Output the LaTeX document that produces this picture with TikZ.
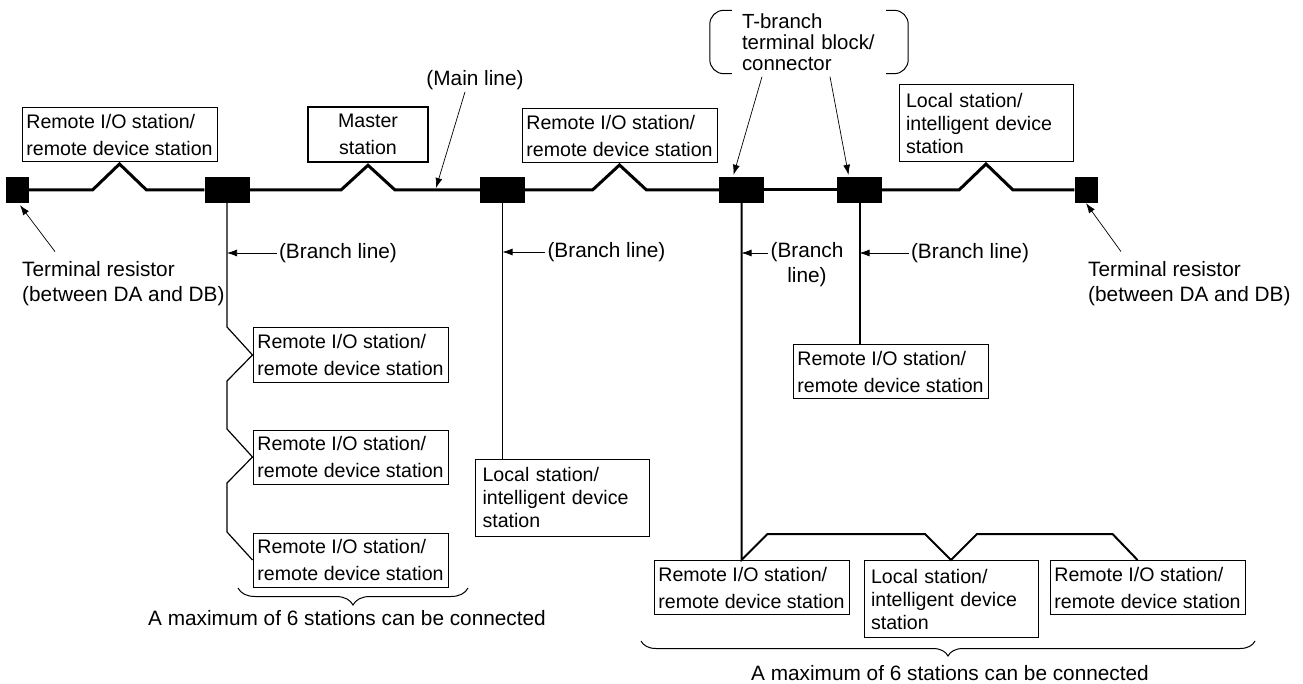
\documentclass[tikz,border=0pt]{standalone}
\usepackage{fontspec}
\setmainfont{Liberation Sans}
\usetikzlibrary{arrows.meta,calc,positioning,decorations.pathreplacing}

\begin{document}
\begin{tikzpicture}[x=1pt,y=-1pt,font=\fontsize{20.8}{25}\selectfont]
  \tikzset{rbox/.style={draw, line width=1pt, align=left, inner sep=2pt, minimum width=195pt, minimum height=54pt, font=\fontsize{19.6}{27}\selectfont}, lbox/.style={draw, line width=1pt, align=left, inner xsep=7pt, inner ysep=2pt, text width=160pt, minimum height=77pt, font=\fontsize{19.6}{23}\selectfont}, mbox/.style={draw, line width=2.5pt, align=center, minimum width=120pt, minimum height=55pt, font=\fontsize{19.6}{27}\selectfont}, tblock/.style={fill=black, minimum width=45pt, minimum height=26pt, inner sep=0pt}, term/.style={fill=black, minimum width=23pt, minimum height=26pt, inner sep=0pt}, bus/.style={line width=3pt}, thinbr/.style={line width=1.2pt}, thickbr/.style={line width=2pt}, pointer/.style={-{Latex[length=10pt,width=7pt]}, line width=0.7pt}, lbl/.style={inner sep=2pt, align=left}, paren/.style={line width=1pt, rounded corners=14pt}, brc/.style={line width=1pt, decorate, decoration={brace, mirror, amplitude=#1}}}
  \useasboundingbox (0,0) rectangle (1303,684);
  % main line
  \node[term] (termL) at (17,190) {};
  \node[tblock] (tb1) at (227,190) {};
  \node[tblock] (tb2) at (502.5,190) {};
  \node[tblock] (tb3) at (741.5,190) {};
  \node[tblock] (tb4) at (859.5,190) {};
  \node[term] (termR) at (1086,190) {};
  \node[rbox] (r1) at (119.5,134.5) {Remote I/O station/\\remote device station};
  \node[mbox] (master) at (368,134.5) {Master\\station};
  \node[rbox] (r2) at (619.5,135.5) {Remote I/O station/\\remote device station};
  \node[lbox] (l1) at (986,123) {Local station/\\intelligent device\\station};
  \draw[bus] (termL.east) -- ($(r1.south |- termL.east)+(-27,0)$) -- ($(r1.south)+(0,2)$) -- ($(r1.south |- termL.east)+(27,0)$) -- (tb1.west);
  \draw[bus] (tb1.east) -- ($(master.south |- tb1.east)+(-27,0)$) -- ($(master.south)+(0,2)$) -- ($(master.south |- tb1.east)+(27,0)$) -- (tb2.west);
  \draw[bus] (tb2.east) -- ($(r2.south |- tb2.east)+(-27,0)$) -- ($(r2.south)+(0,2)$) -- ($(r2.south |- tb2.east)+(27,0)$) -- (tb3.west);
  \draw[bus] (tb3.east) -- (tb4.west);
  \draw[bus] (tb4.east) -- ($(l1.south |- tb4.east)+(-27,0)$) -- ($(l1.south)+(0,2)$) -- ($(l1.south |- tb4.east)+(27,0)$) -- (termR.west);
  % branches
  \node[rbox] (b1) at (350.5,355) {Remote I/O station/\\remote device station};
  \node[rbox, below=47pt of b1] (b2) {Remote I/O station/\\remote device station};
  \node[rbox, below=48pt of b2] (b3) {Remote I/O station/\\remote device station};
  \node[lbox] (loc1) at (562.5,497.5) {Local station/\\intelligent device\\station};
  \node[rbox] (b6) at (890.5,371.5) {Remote I/O station/\\remote device station};
  \node[rbox] (b4) at (751.5,587.5) {Remote I/O station/\\remote device station};
  \node[lbox, right=14pt of b4.north east, anchor=north west] (loc2) {Local station/\\intelligent device\\station};
  \node[rbox] (b5) at (1147.5,587.5) {Remote I/O station/\\remote device station};
  \draw[thinbr] (tb1.south) -- ($(tb1.south |- b1.west)+(0,-28)$) -- (b1.west) -- ($(tb1.south |- b1.west)+(0,26)$) -- ($(tb1.south |- b2.west)+(0,-28)$) -- (b2.west) -- ($(tb1.south |- b2.west)+(0,26)$) -- ($(tb1.south |- b3.west)+(0,-28)$) -- (b3.west);
  \draw[thinbr] (tb2.south) -- (tb2.south |- loc1.north);
  \draw[thickbr] (tb4.south) -- (tb4.south |- b6.north);
  \draw[thickbr] (tb3.south) -- (tb3.south |- b4.north) -- ++(26,-26) -- ($(loc2.north)+(-26,-26)$) -- (loc2.north) -- ($(loc2.north)+(26,-26)$) -- ($(b5.north)+(-35,-26)$) -- ($(b5.north)+(-10,0)$);
  % labels
  \node[lbl] (mainlab) at (475,80) {(Main line)};
  \coordinate (mainpt) at (436,188);
  \draw[pointer] ($(mainlab.south)+(-10,0)$) -- (mainpt);
  \node[lbl] (lab1) at (338,253) {(Branch line)};
  \node[lbl] (lab2) at (606.5,252) {(Branch line)};
  \node[lbl, align=center] (lab3) at (807,264.5) {(Branch\\line)};
  \node[lbl] (lab4) at (970,253) {(Branch line)};
  \draw[pointer] (lab1.west) -- (lab1.west -| tb1.south);
  \draw[pointer] (lab2.west) -- (lab2.west -| tb2.south);
  \draw[pointer] (lab3.west |- lab1.west) -- (tb3.south |- lab1.west);
  \draw[pointer] (lab4.west) -- (lab4.west -| tb4.south);
  \node[lbl, anchor=west] (termlabL) at (20,284) {Terminal resistor\\(between DA and DB)};
  \node[lbl, anchor=west] (termlabR) at (1086,284) {Terminal resistor\\(between DA and DB)};
  \draw[pointer] ($(termlabL.north west)+(35,-8)$) -- ($(termL.south)+(3,2)$);
  \draw[pointer] ($(termlabR.north west)+(35,-8)$) -- (termR.south);
  \node[align=left, inner xsep=32pt, inner ysep=2pt, text width=134pt, minimum height=63pt, font=\fontsize{20.4}{21}\selectfont] (tbl) at (809,42) {T-branch\\terminal block/\\connector};
  \draw[paren] ($(tbl.north west)+(22,0)$) -- (tbl.north west) -- (tbl.south west) -- ++(22,0);
  \draw[paren] ($(tbl.north east)+(-22,0)$) -- (tbl.north east) -- (tbl.south east) -- ++(-22,0);
  \draw[pointer] ($(tbl.south)+(-47,3)$) -- ($(tb3.north)+(-8,-2)$);
  \draw[pointer] ($(tbl.south)+(21,3)$) -- ($(tb4.north)+(-11,-2)$);
  % braces
  \draw[brc=17pt] (238,588) -- (468,588);
  \node[lbl] (maxL) at (347,618) {A maximum of 6 stations can be connected};
  \draw[brc=15pt] (641,641) -- (1255,641);
  \node[lbl] (maxR) at (950,673) {A maximum of 6 stations can be connected};
\end{tikzpicture}
\end{document}
